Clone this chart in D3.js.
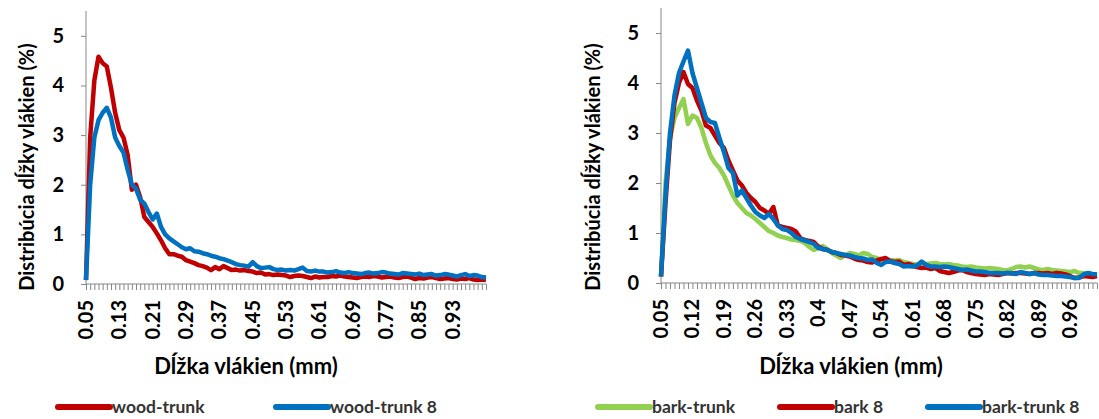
<!DOCTYPE html>
<html>
<head>
<meta charset="utf-8">
<script src="https://cdn.jsdelivr.net/npm/d3@7"></script>
<style>
  body { margin: 0; background: #fff; }
  svg { display: block; font-family: Lato, "Open Sans", sans-serif; }
</style>
</head>
<body>
<svg id="graf" width="1099" height="419"></svg>
<script>
// Kategórie (dĺžka vlákien, mm)
const dlzkaWood = [0.05,0.06,0.07,0.08,0.09,0.10,0.11,0.12,0.13,0.14,0.15,0.16,0.17,0.18,0.19,0.20,0.21,0.22,0.23,0.24,
  0.25,0.26,0.27,0.28,0.29,0.30,0.31,0.32,0.33,0.34,0.35,0.36,0.37,0.38,0.39,0.40,0.41,0.42,0.43,0.44,
  0.45,0.46,0.47,0.48,0.49,0.50,0.51,0.52,0.53,0.54,0.55,0.56,0.57,0.58,0.59,0.60,0.61,0.62,0.63,0.64,
  0.65,0.66,0.67,0.68,0.69,0.70,0.71,0.72,0.73,0.74,0.75,0.76,0.77,0.78,0.79,0.80,0.81,0.82,0.83,0.84,
  0.85,0.86,0.87,0.88,0.89,0.90,0.91,0.92,0.93,0.94,0.95,0.96,0.97,0.98,0.99,1.00,1.01]
const dlzkaBark = [0.05,0.06,0.07,0.08,0.09,0.10,0.11,0.12,0.13,0.14,0.15,0.16,0.17,0.18,0.19,0.20,0.21,0.22,0.23,0.24,
  0.25,0.26,0.27,0.28,0.29,0.30,0.31,0.32,0.33,0.34,0.35,0.36,0.37,0.38,0.39,0.40,0.41,0.42,0.43,0.44,
  0.45,0.46,0.47,0.48,0.49,0.50,0.51,0.52,0.53,0.54,0.55,0.56,0.57,0.58,0.59,0.60,0.61,0.62,0.63,0.64,
  0.65,0.66,0.67,0.68,0.69,0.70,0.71,0.72,0.73,0.74,0.75,0.76,0.77,0.78,0.79,0.80,0.81,0.82,0.83,0.84,
  0.85,0.86,0.87,0.88,0.89,0.90,0.91,0.92,0.93,0.94,0.95,0.96,0.97,0.98,0.99,1.00,1.01,1.02]

// Popisky osi x
const ticksWood = [0.05,0.13,0.21,0.29,0.37,0.45,0.53,0.61,0.69,0.77,0.85,0.93]
const ticksBark = [0.05,0.12,0.19,0.26,0.33,0.40,0.47,0.54,0.61,0.68,0.75,0.82,0.89,0.96]
const ticksY = [0, 1, 2, 3, 4, 5]

// Série (%)
const woodTrunk = [0.08,2.95,4.10,4.58,4.45,4.38,3.95,3.45,3.10,2.95,2.60,1.90,2.00,1.75,1.35,1.25,1.15,1.02,0.88,0.72,
  0.60,0.60,0.57,0.55,0.48,0.45,0.42,0.38,0.36,0.33,0.28,0.34,0.30,0.36,0.32,0.28,0.29,0.27,0.28,0.26,
  0.25,0.22,0.23,0.19,0.20,0.18,0.19,0.18,0.17,0.14,0.16,0.17,0.16,0.14,0.12,0.15,0.13,0.14,0.14,0.16,
  0.15,0.17,0.15,0.14,0.13,0.12,0.14,0.15,0.14,0.16,0.15,0.13,0.14,0.15,0.13,0.12,0.14,0.15,0.13,0.10,
  0.12,0.11,0.13,0.14,0.12,0.10,0.11,0.12,0.10,0.09,0.11,0.10,0.12,0.09,0.08,0.09,0.08]
const woodTrunk8 = [0.08,2.00,2.95,3.30,3.45,3.55,3.35,2.95,2.78,2.65,2.30,2.00,1.92,1.70,1.62,1.45,1.30,1.42,1.15,1.00,
  0.92,0.86,0.80,0.74,0.70,0.72,0.66,0.65,0.62,0.60,0.57,0.55,0.52,0.50,0.47,0.44,0.40,0.38,0.37,0.35,
  0.44,0.36,0.32,0.33,0.34,0.30,0.28,0.29,0.27,0.28,0.27,0.30,0.33,0.26,0.25,0.27,0.25,0.25,0.23,0.24,
  0.26,0.23,0.22,0.24,0.22,0.21,0.20,0.22,0.23,0.21,0.22,0.24,0.23,0.21,0.20,0.19,0.22,0.21,0.20,0.19,
  0.21,0.18,0.19,0.20,0.17,0.18,0.20,0.19,0.17,0.15,0.18,0.20,0.16,0.18,0.17,0.14,0.13]

const barkTrunk = [0.13,2.00,2.90,3.30,3.50,3.68,3.18,3.35,3.30,3.10,2.80,2.55,2.40,2.30,2.15,1.95,1.75,1.60,1.50,1.40,
  1.35,1.28,1.20,1.12,1.04,1.00,0.95,0.92,0.90,0.87,0.86,0.84,0.80,0.72,0.66,0.70,0.74,0.68,0.60,0.55,
  0.50,0.56,0.60,0.58,0.55,0.60,0.58,0.52,0.50,0.46,0.47,0.46,0.45,0.46,0.42,0.40,0.38,0.37,0.40,0.38,
  0.39,0.40,0.38,0.37,0.38,0.36,0.35,0.33,0.32,0.33,0.31,0.30,0.29,0.30,0.29,0.28,0.26,0.25,0.28,0.32,
  0.33,0.31,0.33,0.30,0.27,0.26,0.28,0.26,0.25,0.24,0.23,0.22,0.24,0.20,0.20,0.17,0.16,0.18]
const bark8 = [0.13,1.60,2.85,3.60,4.00,4.22,3.98,3.90,3.65,3.45,3.15,3.10,2.95,2.80,2.70,2.45,2.25,2.05,1.95,1.80,
  1.70,1.62,1.50,1.45,1.38,1.52,1.15,1.12,1.10,1.08,1.03,0.90,0.86,0.84,0.82,0.73,0.68,0.66,0.62,0.60,
  0.56,0.55,0.53,0.49,0.46,0.45,0.42,0.41,0.45,0.48,0.50,0.44,0.42,0.43,0.36,0.38,0.35,0.32,0.30,0.31,
  0.28,0.30,0.24,0.22,0.20,0.22,0.25,0.26,0.22,0.20,0.18,0.17,0.16,0.18,0.17,0.16,0.18,0.20,0.19,0.20,
  0.20,0.19,0.18,0.20,0.20,0.19,0.20,0.18,0.20,0.19,0.17,0.14,0.10,0.11,0.14,0.13,0.12,0.14]
const barkTrunk8 = [0.13,1.75,3.00,3.75,4.20,4.43,4.65,4.20,3.90,3.60,3.30,3.22,3.20,2.90,2.62,2.30,2.20,1.75,1.85,1.70,
  1.55,1.42,1.35,1.30,1.38,1.28,1.15,1.08,1.06,1.00,0.92,0.88,0.85,0.82,0.78,0.70,0.68,0.66,0.62,0.60,
  0.58,0.56,0.55,0.52,0.50,0.49,0.46,0.47,0.40,0.36,0.42,0.43,0.40,0.38,0.33,0.34,0.33,0.35,0.43,0.36,
  0.33,0.33,0.32,0.33,0.32,0.30,0.28,0.26,0.27,0.25,0.23,0.23,0.22,0.20,0.20,0.20,0.19,0.20,0.20,0.18,
  0.22,0.20,0.18,0.20,0.17,0.16,0.16,0.15,0.14,0.14,0.13,0.12,0.10,0.10,0.17,0.20,0.18,0.17]

const svg = d3.select("#graf")

const draw = (cfg) => {
  const g = svg.append("g")

  // Escaladores
  const x = d3.scalePoint().domain(cfg.kategorie).range([cfg.x0, cfg.x1])
  const y = d3.scaleLinear().domain([0, 5.5]).range([cfg.y0, cfg.yTop])

  // Os x
  const osX = g.append("g").attr("transform", `translate(0, ${cfg.y0})`)
  osX.call(d3.axisBottom(x).tickSize(6).tickFormat(""))
  osX.select(".domain").attr("stroke", "#878787").attr("d", `M${cfg.x0},0H${cfg.x1}`)
  osX.selectAll(".tick line").attr("stroke", "#878787")

  g.selectAll(".lblx")
    .data(cfg.ticksX)
    .join("text")
    .attr("transform", (d) => `translate(${x(d) + 7}, ${cfg.y0 + 16}) rotate(-90)`)
    .attr("text-anchor", "end")
    .attr("font-size", 20)
    .attr("font-weight", "bold")
    .text((d) => String(d))

  // Os y
  const osY = g.append("g").attr("transform", `translate(${cfg.x0}, 0)`)
  osY.call(d3.axisLeft(y).tickValues(ticksY).tickSize(5).tickFormat(""))
  osY.select(".domain").attr("stroke", "#878787").attr("d", `M0,${cfg.y0}V${cfg.yTop}`)
  osY.selectAll(".tick line").attr("stroke", "#878787")

  g.selectAll(".lbly")
    .data(ticksY)
    .join("text")
    .attr("x", cfg.x0 - 22)
    .attr("y", (d) => y(d) + 7)
    .attr("text-anchor", "end")
    .attr("font-size", 20)
    .attr("font-weight", "bold")
    .text((d) => d)

  // Názvy osí
  g.append("text")
    .attr("transform", `translate(${cfg.yTitleX}, 167) rotate(-90)`)
    .attr("text-anchor", "middle")
    .attr("font-size", 20)
    .attr("font-weight", "bold")
    .text("Distribúcia dĺžky vlákien (%)")

  g.append("text")
    .attr("x", cfg.xTitleX)
    .attr("y", 374)
    .attr("text-anchor", "middle")
    .attr("font-size", 22)
    .attr("font-weight", "bold")
    .text("Dĺžka vlákien (mm)")

  // Čiary
  const line = d3.line()
    .x((d, i) => x(cfg.kategorie[i]))
    .y((d) => y(d))

  cfg.serie.forEach((s) => {
    g.append("path")
      .datum(s.hodnoty)
      .attr("fill", "none")
      .attr("stroke", s.farba)
      .attr("stroke-width", 4.5)
      .attr("stroke-linejoin", "round")
      .attr("d", line)
  })

  // Legenda
  cfg.serie.forEach((s) => {
    g.append("line")
      .attr("x1", s.lx).attr("x2", s.lx + 52)
      .attr("y1", 407).attr("y2", 407)
      .attr("stroke", s.farba)
      .attr("stroke-width", 6)
      .attr("stroke-linecap", "round")
    g.append("text")
      .attr("x", s.lx + 54)
      .attr("y", 413)
      .attr("font-size", 17.5)
      .attr("font-weight", "bold")
      .attr("fill", "#333")
      .text(s.nazov)
  })
}

draw({
  kategorie: dlzkaWood,
  ticksX: ticksWood,
  x0: 86, x1: 486, y0: 284, yTop: 11,
  yTitleX: 34, xTitleX: 246,
  serie: [
    { nazov: "wood-trunk", hodnoty: woodTrunk, farba: "#C00000", lx: 58 },
    { nazov: "wood-trunk 8", hodnoty: woodTrunk8, farba: "#0070C0", lx: 276 }
  ]
})

draw({
  kategorie: dlzkaBark,
  ticksX: ticksBark,
  x0: 661, x1: 1097, y0: 283, yTop: 8,
  yTitleX: 600, xTitleX: 851,
  serie: [
    { nazov: "bark-trunk", hodnoty: barkTrunk, farba: "#92D050", lx: 598 },
    { nazov: "bark 8", hodnoty: bark8, farba: "#C00000", lx: 780 },
    { nazov: "bark-trunk 8", hodnoty: barkTrunk8, farba: "#0070C0", lx: 928 }
  ]
})
</script>
</body>
</html>
